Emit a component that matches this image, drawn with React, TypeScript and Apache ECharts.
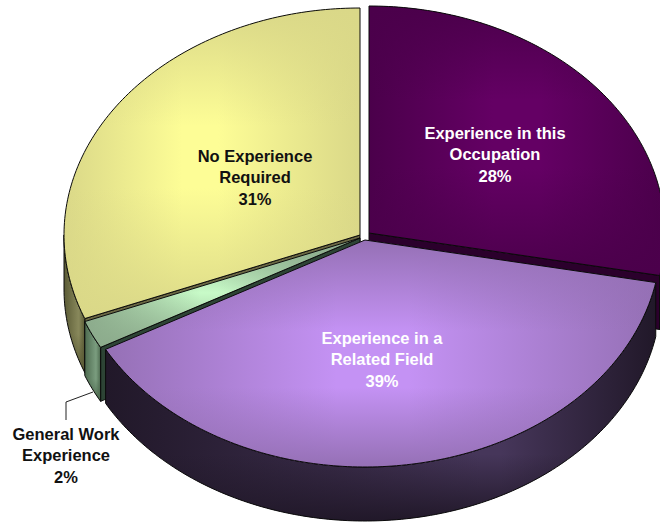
import React, { useEffect, useRef } from "react";
import * as echarts from "echarts";

const categories = ["Experience in this\nOccupation", "Experience in a\nRelated Field", "General Work\nExperience", "No Experience\nRequired"];
const shares = [28, 39, 2, 31];

const RX = 296, RY = 227, DEPTH = 54;
const centers = [[369, 233], [365, 240], [360, 238], [360, 235]];
const layers = [1, 4, 3, 2];
const labelPos = [[495, 154], [382, 359], [66, 455], [255, 177]];
const labelColor = ["#ffffff", "#ffffff", "#111111", "#111111"];

type Look = { edge: string; mid: string; hs: number[]; vs: number[]; wallEdge: string; wallMid: string; face: string; };
const rgba = (hex: string, a: number) => {
  const n = parseInt(hex.slice(1), 16);
  return `rgba(${n >> 16},${(n >> 8) & 255},${n & 255},${a})`;
};
const looks: Look[] = [
  { edge: "#4b004b", mid: "#640064", hs: [0.42, 0.58], vs: [0.35, 0.6], wallEdge: "#0c000e", wallMid: "#1a0a1e", face: "#2b002c" },
  { edge: "#9570b5", mid: "#c492f4", hs: [0.42, 0.55], vs: [0.4, 0.65], wallEdge: "#211829", wallMid: "#46365a", face: "#241b30" },
  { edge: "#8cab8c", mid: "#c8fbc8", hs: [0.42, 0.48], vs: [0.5, 0.5], wallEdge: "#4d6a4f", wallMid: "#799b7d", face: "#2d4435" },
  { edge: "#dad888", mid: "#fdfd96", hs: [0.4, 0.52], vs: [0.38, 0.58], wallEdge: "#5a5a35", wallMid: "#87875a", face: "#6b6844" },
];

const rim = (cx: number, cy: number, t: number, dy = 0): number[] => [cx + RX * Math.sin(t), cy - RY * Math.cos(t) + dy];
const arc = (cx: number, cy: number, a: number, b: number, dy = 0) => {
  const n = Math.max(8, Math.ceil(Math.abs(b - a) * 60));
  const out: number[][] = [];
  for (let i = 0; i <= n; i++) out.push(rim(cx, cy, a + ((b - a) * i) / n, dy));
  return out;
};
const horiz = (edge: string, mid: string, a: number, b: number) => ({
  type: "linear", x: 0, y: 0, x2: 1, y2: 0, global: false,
  colorStops: [
    { offset: 0, color: edge }, { offset: a, color: mid }, { offset: b, color: mid }, { offset: 1, color: edge },
  ],
});
const vert = (edge: string, a: number, b: number) => ({
  type: "linear", x: 0, y: 0, x2: 0, y2: 1, global: false,
  colorStops: [
    { offset: 0, color: rgba(edge, 1) }, { offset: a, color: rgba(edge, 0) }, { offset: b, color: rgba(edge, 0) }, { offset: 1, color: rgba(edge, 1) },
  ],
});

function renderSlice(params: any, api: any) {
  const i = params.dataIndex;
  const total = shares.reduce((s, v) => s + v, 0);
  const before = shares.slice(0, i).reduce((s, v) => s + v, 0);
  const a = (before / total) * Math.PI * 2;
  const b = a + (api.value(0) / total) * Math.PI * 2;
  const [cx, cy] = centers[i];
  const look = looks[i];
  const base = layers[i] * 10;
  const line = { stroke: "#0a0a0a", lineWidth: 1, lineJoin: "round" };
  const children: any[] = [];
  const poly = (points: number[][], style: any, z: number) => children.push({ type: "polygon", shape: { points }, style, z2: base + z });

  const faceAngle = Math.sin(a) < -1e-6 ? a : Math.sin(b) > 1e-6 ? b : null;
  if (faceAngle !== null) {
    const p = rim(cx, cy, faceAngle);
    poly([[cx, cy], p, [p[0], p[1] + DEPTH], [cx, cy + DEPTH]], { fill: look.face, ...line }, 0);
  }
  const from = Math.max(a, Math.PI / 2);
  const to = Math.min(b, (Math.PI * 3) / 2);
  if (to > from) {
    const wall = [...arc(cx, cy, from, to), ...arc(cx, cy, to, from, DEPTH)];
    poly(wall, { fill: horiz(look.wallEdge, look.wallMid, 0.68, 0.72) }, 1);
    poly(wall, {
      fill: { type: "linear", x: 0, y: 0, x2: 0, y2: 1, global: false,
        colorStops: [{ offset: 0, color: rgba(look.wallEdge, 0) }, { offset: 0.72, color: rgba(look.wallEdge, 0) }, { offset: 1, color: rgba(look.wallEdge, 1) }] },
      ...line,
    }, 2);
  }
  const top = [[cx, cy], ...arc(cx, cy, a, b)];
  poly(top, { fill: horiz(look.edge, look.mid, look.hs[0], look.hs[1]) }, 3);
  poly(top, { fill: vert(look.edge, look.vs[0], look.vs[1]), ...line }, 4);

  if (i === 2) {
    children.push({
      type: "polyline",
      shape: { points: [[93, 392], [66, 402], [66, 420]] },
      style: { stroke: "#222222", lineWidth: 1, fill: "none" },
      z2: 100,
    });
  }
  children.push({
    type: "text",
    style: {
      text: `${categories[i]}\n${api.value(0)}%`,
      x: labelPos[i][0], y: labelPos[i][1],
      align: "center", verticalAlign: "middle",
      font: 'bold 16.5px "Liberation Sans", Arial, sans-serif',
      lineHeight: 21.5,
      fill: labelColor[i],
    },
    z2: 101,
  });
  return { type: "group", children };
}

export default function App() {
  const ref = useRef<HTMLDivElement>(null);
  useEffect(() => {
    const chart = echarts.init(ref.current!, null, { renderer: "svg" });
    chart.setOption({
      animation: false,
      backgroundColor: "#ffffff",
      series: [{
        type: "custom",
        coordinateSystem: "none",
        renderItem: renderSlice,
        data: shares.map((v, i) => ({ name: categories[i], value: [v] })),
        silent: true,
      }],
    });
    return () => chart.dispose();
  }, []);
  return <div ref={ref} style={{ position: "absolute", left: 0, top: 0, width: 660, height: 523 }} />;
}
